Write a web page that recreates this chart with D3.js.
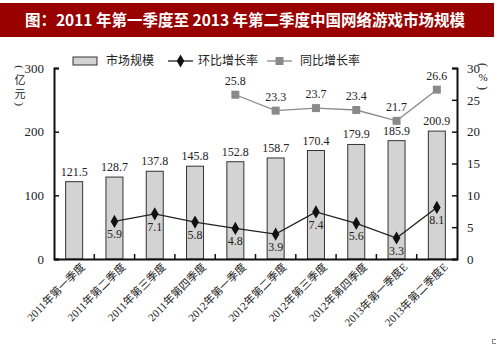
<!DOCTYPE html>
<html><head><meta charset="utf-8">
<script src="https://cdn.jsdelivr.net/npm/d3@7"></script>
<style>
body{margin:0;background:#fff;}
text{font-family:"Liberation Serif","Noto Sans CJK SC",serif;}
</style></head>
<body><svg id="c" width="496" height="354"></svg>
<script>
const categories = ["2011年第一季度","2011年第二季度","2011年第三季度","2011年第四季度","2012年第一季度","2012年第二季度","2012年第三季度","2012年第四季度","2013年第一季度E","2013年第二季度E"];
const marketSize = [121.5,128.7,137.8,145.8,152.8,158.7,170.4,179.9,185.9,200.9];
const qoqGrowth = [null,5.9,7.1,5.8,4.8,3.9,7.4,5.6,3.3,8.1];
const yoyGrowth = [null,null,null,null,25.8,23.3,23.7,23.4,21.7,26.6];
const leftTicks = [0,100,200,300];
const rightTicks = [0,5,10,15,20,25,30];
const seriesNames = ["市场规模","环比增长率","同比增长率"];
const title = "图：2011 年第一季度至 2013 年第二季度中国网络游戏市场规模";

const svg = d3.select("#c");
// title bar
svg.append("rect").attr("x",0).attr("y",3).attr("width",494).attr("height",34).attr("fill","#990000");
svg.append("text").attr("x",245).attr("y",26).attr("text-anchor","middle")
  .attr("fill","#fff").attr("font-size",15.5).attr("font-weight","bold")
  .style("font-family","'Noto Sans CJK SC',sans-serif").text(title);

const L=54,R=457,T=68,B=259;
const x = d3.scaleBand().domain(categories).range([L,R]);
const yL = d3.scaleLinear().domain([0,300]).range([B,T]);
const yR = d3.scaleLinear().domain([0,30]).range([B,T]);
const bw = 17;
const cx = d => x(d)+x.bandwidth()/2;

// bars
svg.append("g").selectAll("rect").data(marketSize).join("rect")
  .attr("x",(d,i)=>cx(categories[i])-bw/2).attr("y",d=>yL(d))
  .attr("width",bw).attr("height",d=>B-yL(d))
  .attr("fill","#d3d3d3").attr("stroke","#333").attr("stroke-width",1);
svg.append("g").selectAll("text").data(marketSize).join("text")
  .attr("x",(d,i)=>cx(categories[i])).attr("y",d=>yL(d)-6)
  .attr("text-anchor","middle").attr("font-size",12).attr("fill","#222").text(d=>d.toFixed(1));

// axes
const axL = svg.append("g").attr("transform",`translate(${L},0)`)
  .call(d3.axisLeft(yL).tickValues(leftTicks).tickSize(-5).tickPadding(10));
const axR = svg.append("g").attr("transform",`translate(${R},0)`)
  .call(d3.axisRight(yR).tickValues(rightTicks).tickSize(-5).tickPadding(10));
const bounds = categories.slice(1).map(c=>x(c));
const axB = svg.append("g").attr("transform",`translate(0,${B})`)
  .call(d3.axisBottom(x).tickSize(0).tickFormat(""));
svg.append("g").selectAll("line").data(bounds).join("line")
  .attr("x1",d=>d).attr("x2",d=>d).attr("y1",B).attr("y2",B-5)
  .attr("stroke","#111").attr("stroke-width",1.5);
[axL,axR,axB].forEach(a=>{
  a.selectAll("path").attr("stroke","#111").attr("stroke-width",2);
  a.selectAll("line").attr("stroke","#111").attr("stroke-width",1.5);
  a.selectAll("text").attr("font-size",13).attr("fill","#222")
   .style("font-family","'Liberation Serif',serif");
});
// x labels
svg.append("g").selectAll("text").data(categories).join("text")
  .attr("transform",d=>`translate(${cx(d)+9},${B+6}) rotate(-45)`)
  .attr("text-anchor","end").attr("dy","0.35em").attr("font-size",11).attr("fill","#222").text(d=>d);

// lines
const qoqPts = categories.map((c,i)=>({c,v:qoqGrowth[i]})).filter(d=>d.v!=null);
const yoyPts = categories.map((c,i)=>({c,v:yoyGrowth[i]})).filter(d=>d.v!=null);
const line = d3.line().x(d=>cx(d.c)).y(d=>yR(d.v));
svg.append("path").datum(yoyPts).attr("d",line).attr("fill","none").attr("stroke","#8a8a8a").attr("stroke-width",1.3);
svg.append("g").selectAll("rect").data(yoyPts).join("rect")
  .attr("x",d=>cx(d.c)-4).attr("y",d=>yR(d.v)-4).attr("width",8).attr("height",8).attr("fill","#8a8a8a");
svg.append("g").selectAll("text").data(yoyPts).join("text")
  .attr("x",d=>cx(d.c)).attr("y",d=>yR(d.v)-10).attr("text-anchor","middle")
  .attr("font-size",12).attr("fill","#222").text(d=>d.v.toFixed(1));

svg.append("path").datum(qoqPts).attr("d",line).attr("fill","none").attr("stroke","#222").attr("stroke-width",1.3);
const diamond = d3.symbol().type(d3.symbolDiamond).size(50);
svg.append("g").selectAll("path").data(qoqPts).join("path")
  .attr("transform",d=>`translate(${cx(d.c)},${yR(d.v)})`).attr("d",diamond).attr("fill","#111");
svg.append("g").selectAll("text").data(qoqPts).join("text")
  .attr("x",d=>cx(d.c)).attr("y",d=>yR(d.v)+17).attr("text-anchor","middle")
  .attr("font-size",12).attr("fill","#222").text(d=>d.v.toFixed(1));

// legend
const lg = svg.append("g").attr("font-size",12).attr("fill","#222");
lg.append("rect").attr("x",73).attr("y",57).attr("width",24).attr("height",8).attr("fill","#d3d3d3").attr("stroke","#333");
lg.append("text").attr("x",106).attr("y",65).text(seriesNames[0]);
lg.append("line").attr("x1",168).attr("x2",193).attr("y1",61).attr("y2",61).attr("stroke","#222").attr("stroke-width",1.3);
lg.append("path").attr("transform","translate(180.5,61)").attr("d",diamond).attr("fill","#111");
lg.append("text").attr("x",198).attr("y",65).text(seriesNames[1]);
lg.append("line").attr("x1",267).attr("x2",292).attr("y1",61).attr("y2",61).attr("stroke","#8a8a8a").attr("stroke-width",1.3);
lg.append("rect").attr("x",275.5).attr("y",57).attr("width",8).attr("height",8).attr("fill","#8a8a8a");
lg.append("text").attr("x",300).attr("y",65).text(seriesNames[2]);

// axis unit labels
const unitL = svg.append("g").attr("font-size",11).attr("fill","#222");
unitL.append("text").attr("transform","translate(20,67) rotate(90)").attr("text-anchor","middle").attr("dy","0.35em").text("(");
unitL.append("text").attr("x",20).attr("y",84).attr("text-anchor","middle").text("亿");
unitL.append("text").attr("x",20).attr("y",98).attr("text-anchor","middle").text("元");
unitL.append("text").attr("transform","translate(20,104) rotate(90)").attr("text-anchor","middle").attr("dy","0.35em").text(")");
const unitR = svg.append("g").attr("font-size",12).attr("fill","#222");
unitR.append("text").attr("transform","translate(483,65) rotate(90)").attr("text-anchor","middle").attr("dy","0.35em").text("(");
unitR.append("text").attr("x",483).attr("y",81).attr("text-anchor","middle").attr("font-size",11).text("%");
unitR.append("text").attr("transform","translate(483,88) rotate(90)").attr("text-anchor","middle").attr("dy","0.35em").text(")");

svg.append("rect").attr("x",492.5).attr("y",339.5).attr("width",4).attr("height",4).attr("fill","none").attr("stroke","#888");
</script></body></html>
